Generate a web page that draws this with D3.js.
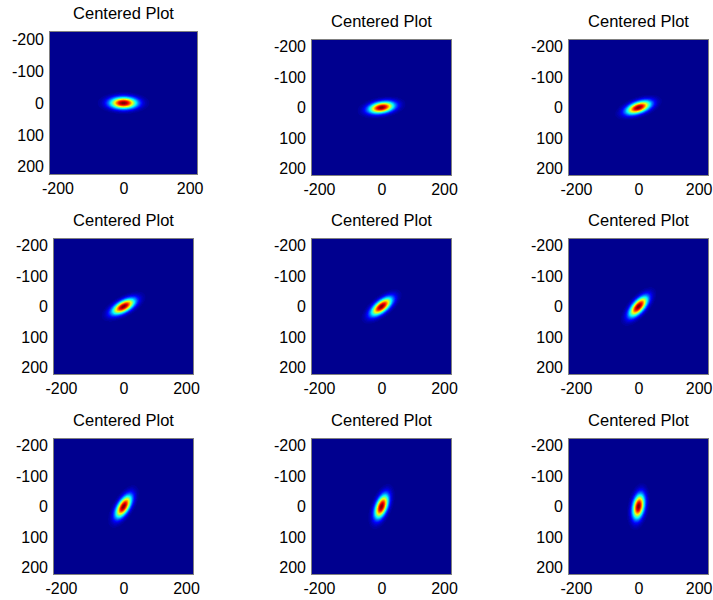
<!DOCTYPE html>
<html>
<head>
<meta charset="utf-8">
<script src="https://cdn.jsdelivr.net/npm/d3@7"></script>
<style>
  body { margin: 0; background: #fff; }
  svg { display: block; }
  text { font-family: "Liberation Sans", Arial, Helvetica, sans-serif; fill: #000; }
</style>
</head>
<body>
<svg id="fig" width="713" height="600"></svg>
<script>
// Orientation (degrees, counter-clockwise on screen) of the elongated
// Gaussian kernel shown in each subplot, read row by row.
const angles = [0, 10, 20, 30, 40, 50, 60, 70, 80];
const titles = ["Centered Plot", "Centered Plot", "Centered Plot",
                "Centered Plot", "Centered Plot", "Centered Plot",
                "Centered Plot", "Centered Plot", "Centered Plot"];
// Kernel widths (standard deviations, in grid units) along and across the major axis
const sigmaMajor = [27, 27, 27, 27, 27, 27, 27, 27, 27];
const sigmaMinor = [12, 12, 12, 12, 12, 12, 12, 12, 12];
// Image grid covers -225..225 in both directions
const gridRange = [-225, 225];
const xTicks = [-200, 0, 200];
const yTicks = [-200, -100, 0, 100, 200];

const W = 713;

// Subplot boxes [left, top, width, height]
const colLeft = [53, 311, 568];
const rowTop = [39, 238, 438];
const boxes = angles.map((a, i) => {
  const r = Math.floor(i / 3), c = i % 3;
  if (i === 0) return [49, 31, 149, 144];
  return [colLeft[c], rowTop[r], 141, 137];
});

// MATLAB-style jet colour map, 64 levels
const jetStops = [0, 7 / 63, 23 / 63, 39 / 63, 55 / 63, 1];
const jetColors = ["#00008f", "#0000ff", "#00ffff", "#ffff00", "#ff0000", "#800000"];
const jet = d3.scaleLinear().domain(jetStops).range(jetColors).interpolate(d3.interpolateRgb).clamp(true);
const levels = d3.range(64).map(k => d3.rgb(jet(k / 63)));
const color = d3.scaleQuantize().domain([0, 1]).range(levels);

const svg = d3.select("#fig");
const n = gridRange[1] - gridRange[0] + 1;
const cells = d3.range(gridRange[0], gridRange[1] + 1);

angles.forEach((deg, i) => {
  const [left, top, w, h] = boxes[i];
  const x = d3.scaleLinear().domain([gridRange[0] - 0.5, gridRange[1] + 0.5]).range([left, left + w]);
  const y = d3.scaleLinear().domain([gridRange[0] - 0.5, gridRange[1] + 0.5]).range([top, top + h]);

  // rasterise the kernel on the grid
  const th = deg * Math.PI / 180, ct = Math.cos(th), st = Math.sin(th);
  const sa = sigmaMajor[i], sb = sigmaMinor[i];
  const canvas = document.createElement("canvas");
  canvas.width = n; canvas.height = n;
  const ctx = canvas.getContext("2d");
  const img = ctx.createImageData(n, n);
  cells.forEach((yv, row) => {
    cells.forEach((xv, col) => {
      const u = xv * ct - yv * st;
      const v = xv * st + yv * ct;
      const val = Math.exp(-(u * u) / (2 * sa * sa) - (v * v) / (2 * sb * sb));
      const c = color(val);
      const k = (row * n + col) * 4;
      img.data[k] = c.r; img.data[k + 1] = c.g; img.data[k + 2] = c.b; img.data[k + 3] = 255;
    });
  });
  ctx.putImageData(img, 0, 0);

  const g = svg.append("g");
  g.append("image")
    .attr("x", x(gridRange[0] - 0.5)).attr("y", y(gridRange[0] - 0.5))
    .attr("width", x(gridRange[1] + 0.5) - x(gridRange[0] - 0.5))
    .attr("height", y(gridRange[1] + 0.5) - y(gridRange[0] - 0.5))
    .attr("preserveAspectRatio", "none")
    .attr("href", canvas.toDataURL());

  g.append("rect")
    .attr("x", left + 0.5).attr("y", top + 0.5)
    .attr("width", w - 1).attr("height", h - 1)
    .attr("fill", "none").attr("stroke", "#808080").attr("stroke-width", 1);

  const ax = g.append("g").attr("transform", `translate(0,${top + h})`)
    .call(d3.axisBottom(x).tickValues(xTicks).tickSize(0).tickPadding(8).tickFormat(d3.format("d")));
  const ay = g.append("g").attr("transform", `translate(${left},0)`)
    .call(d3.axisLeft(y).tickValues(yTicks).tickSize(0).tickPadding(5).tickFormat(d3.format("d")));
  [ax, ay].forEach(a => {
    a.select(".domain").remove();
    a.selectAll("text").attr("font-size", 16).attr("fill", "#000")
      .style("font-family", '"Liberation Sans", Arial, sans-serif');
  });
  // plain hyphen for negative numbers
  g.selectAll(".tick text").text(d => String(d));

  // keep x tick labels inside the page at the right-hand edge
  ax.selectAll(".tick").each(function (d) {
    const t = d3.select(this).select("text");
    const bb = t.node().getBBox();
    const right = x(d) + bb.width / 2;
    if (right > W - 1) t.attr("x", (W - 1) - right);
  });

  g.append("text")
    .attr("x", left + w / 2).attr("y", top - 12)
    .attr("text-anchor", "middle").attr("font-size", 16.5)
    .text(titles[i]);
});
</script>
</body>
</html>
